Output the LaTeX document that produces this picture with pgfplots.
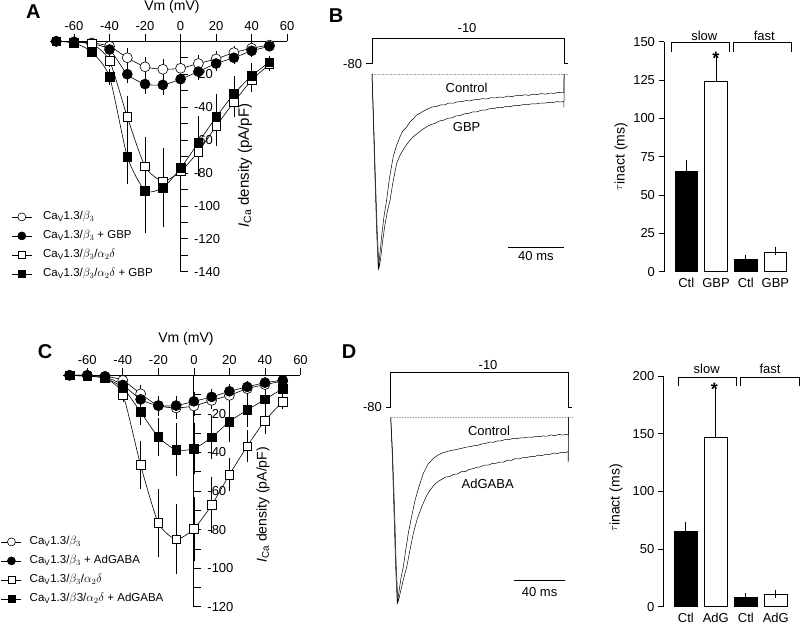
\documentclass[border=0pt]{standalone}
\usepackage{pgfplots}
\pgfplotsset{compat=1.18}
\usepackage{pgfplotstable}
\usepackage{fontspec}
\setmainfont{Liberation Sans}
\newcommand\tickfont{\fontsize{13}{15.5}\selectfont}
\newcommand\labfont{\fontsize{14}{17}\selectfont}
\newcommand\legfont{\fontsize{11.5}{13.5}\selectfont}

\pgfplotstableread{
v i e
-70 0 0
-60 -0.3 0
-50 -1 0.5
-40 -3 1.5
-30 -10 4
-20 -15.5 4
-10 -17 4
0 -16.4 4
10 -13.5 3
20 -10.7 3
30 -6.9 2
40 -4.2 1.5
50 -2.3 1
}\Aoc
\pgfplotstableread{
v i e
-70 0 0
-60 -0.5 0
-50 -1.5 0.5
-40 -5 1.5
-30 -20 3.5
-20 -26 4
-10 -26.5 4
0 -23 4
10 -18.4 3
20 -13.5 2.5
30 -10 2
40 -5.8 1.5
50 -3 1
}\Afc
\pgfplotstableread{
v i e
-70 0 0
-60 -0.5 0
-50 -1.5 0.5
-40 -11.8 2
-30 -46 11
-20 -76 16
-10 -85 17
0 -79 16
10 -67 13
20 -51.5 10
30 -37 7
40 -23.6 5
50 -14 2
}\Aos
\pgfplotstableread{
v i e
-70 0 0
-60 -1 0
-50 -6.5 1
-40 -21.6 3
-30 -70 15
-20 -90.7 24
-10 -89 22
0 -77 19
10 -61.6 14
20 -46 12
30 -32 9
40 -21 6
50 -12.7 2
}\Afs
\pgfplotstableread{
v i e
-70 0 0
-60 0 0
-50 -0.5 0.5
-40 -2.6 1
-30 -9.6 3
-20 -15.7 3.5
-10 -16.9 4
0 -15.9 3.5
10 -13 3
20 -10.4 2.5
30 -6.9 2
40 -4.8 1.5
50 -3 1
}\Coc
\pgfplotstableread{
v i e
-70 0 0
-60 0 0
-50 -0.8 0.5
-40 -5 1
-30 -12.5 2.5
-20 -15.7 3
-10 -15.7 3
0 -13.5 3
10 -11.2 2.5
20 -8.3 2
30 -6 1.5
40 -3.8 1
50 -2.6 0.5
}\Cfc
\pgfplotstableread{
v i e
-70 0 0
-60 -0.5 0
-50 -1.5 0.5
-40 -10 2
-30 -46.5 10.6
-20 -76.5 16
-10 -85 16.5
0 -79.6 15
10 -67.3 13
20 -51.5 7
30 -36.8 6.5
40 -23.5 5
50 -13.6 2
}\Cos
\pgfplotstableread{
v i e
-70 0 0
-60 -0.5 0
-50 -1.5 0.5
-40 -6.5 1.5
-30 -19 5
-20 -32 8
-10 -38.7 12
0 -38 11.7
10 -32.2 9.7
20 -24 9
30 -18 7
40 -12.5 4
50 -6.9 2
}\Cfs

\pgfplotsset{
  ivaxis/.style={scale only axis, anchor=south west, clip=false,
    axis x line*=top, axis y line*=center,
    xtick={-60,-40,...,60}, xtick align=outside, ytick align=inside,
    major tick length=7pt, minor tick length=7pt,
    tick style={black, line width=0.7pt}, axis line style={black, line width=0.8pt},
    xlabel={Vm (mV)}, ylabel={\textit{I}\textsubscript{Ca} density (pA/pF)},
    tick label style={font=\tickfont},
    yticklabel style={anchor=west, xshift=10pt},
    /pgf/number format/assume math mode=true,
    legend cell align=left,
    legend image code/.code={\draw[mark repeat=2,mark phase=2,##1,every mark/.append style={scale=0.8}] plot coordinates {(0pt,0pt) (10pt,0pt) (20pt,0pt)};}},
  legst/.style={legend style={anchor=north west, draw=none, fill=none, font=\legfont,
    inner sep=0pt, row sep=3pt, nodes={inner sep=2pt, text height=9pt, text depth=3pt}}},
  errs/.style={draw=none, mark=none, forget plot, error bars/.cd, y dir=both, y explicit,
    error bar style={draw=black, line width=0.6pt},
    error mark options={draw=black, mark size=3.3pt, line width=0.6pt}},
  ivl/.style={black, line width=0.6pt, smooth, tension=0.4},
  oc/.style={mark=*, mark size=5pt, mark options={solid, fill=white, draw=black, line width=0.6pt}},
  fc/.style={mark=*, mark size=5pt, mark options={solid, fill=black, draw=black}},
  os/.style={mark=square*, mark size=4.3pt, mark options={solid, fill=white, draw=black, line width=0.6pt}},
  fs/.style={mark=square*, mark size=4.3pt, mark options={solid, fill=black, draw=black}},
  traxis/.style={scale only axis, anchor=south west, clip=false, hide axis, xmin=-15, xmax=145},
  baraxis/.style={scale only axis, anchor=south west, clip=false, xmin=0.25, xmax=4.7, ymin=0,
    axis y line*=left, axis x line*=bottom, x axis line style={draw=none},
    xtick={1,2,3,4}, xtick style={draw=none}, ytick align=outside, major tick length=5.5pt,
    tick style={black, line width=0.7pt}, axis line style={black, line width=0.8pt},
    tick label style={font=\tickfont}, xticklabel style={yshift=2.5pt},
    /pgf/number format/assume math mode=true,
    ylabel={\raisebox{2.5pt}{\fontsize{11}{12}\selectfont$\tau$}inact (ms)},
    ybar, bar width=22.5pt},
  berr/.style={bar shift=0pt, error bars/.cd, y dir=plus, y explicit,
    error bar style={draw=black, line width=0.7pt},
    error mark options={draw=black, mark size=4pt, line width=0.7pt}},
}

\begin{document}
\begin{tikzpicture}[x=1pt,y=1pt]
\useasboundingbox (0,0) rectangle (800,-624);

% panel letters
\node[font=\fontsize{20}{24}\selectfont\bfseries] at (33.3,-11.7) {A};
\node[font=\fontsize{20}{24}\selectfont\bfseries] at (336,-15.5) {B};
\node[font=\fontsize{20}{24}\selectfont\bfseries] at (45,-351.7) {C};
\node[font=\fontsize{20}{24}\selectfont\bfseries] at (349,-351.7) {D};

% ---------------- Panel A -----------------
\begin{axis}[ivaxis, legst, at={(50pt,-271.7pt)}, width=237.2pt, height=230.4pt,
  xmin=-73.5, xmax=60, ymin=-140, ymax=0,
  ytick={-140,-120,...,-20}, minor ytick={-130,-110,...,-10},
  every axis x label/.style={at={(axis description cs:0.514,1.149)}, anchor=center, font=\labfont},
  every axis y label/.style={at={(axis description cs:0.822,0.46)}, rotate=90, anchor=center, font=\fontsize{15}{18}\selectfont},
  legend style={at={(axis description cs:-0.163,0.2734)}, column sep=9pt}]
\addplot[errs] table[x=v,y=i,y error=e]{\Aoc};
\addplot[errs] table[x=v,y=i,y error=e]{\Afc};
\addplot[errs] table[x=v,y=i,y error=e]{\Aos};
\addplot[errs] table[x=v,y=i,y error=e]{\Afs};
\addplot[ivl, oc] table[x=v,y=i]{\Aoc};
\addlegendentry{\legfont Ca\textsubscript{V}1.3/$\beta_3$}
\addplot[ivl, fc] table[x=v,y=i]{\Afc};
\addlegendentry{\legfont Ca\textsubscript{V}1.3/$\beta_3$ + GBP}
\addplot[ivl, os] table[x=v,y=i]{\Aos};
\addlegendentry{\legfont Ca\textsubscript{V}1.3/$\beta_3$/$\alpha_2\delta$}
\addplot[ivl, fs] table[x=v,y=i]{\Afs};
\addlegendentry{\legfont Ca\textsubscript{V}1.3/$\beta_3$/$\alpha_2\delta$ + GBP}
\end{axis}

% ---------------- Panel C -----------------
\begin{axis}[ivaxis, legst, at={(63.3pt,-606.7pt)}, width=237.2pt, height=231.4pt,
  xmin=-73.5, xmax=60, ymin=-120, ymax=0,
  ytick={-120,-100,...,-20}, minor ytick={-110,-90,...,-10},
  every axis x label/.style={at={(axis description cs:0.517,1.157)}, anchor=center, font=\labfont},
  every axis y label/.style={at={(axis description cs:0.842,0.44)}, rotate=90, anchor=center, font=\labfont},
  legend style={at={(axis description cs:-0.263,0.3155)}, column sep=6pt}]
\addplot[errs] table[x=v,y=i,y error=e]{\Coc};
\addplot[errs] table[x=v,y=i,y error=e]{\Cfc};
\addplot[errs] table[x=v,y=i,y error=e]{\Cos};
\addplot[errs] table[x=v,y=i,y error=e]{\Cfs};
\addplot[ivl, oc] table[x=v,y=i]{\Coc};
\addlegendentry{\legfont Ca\textsubscript{V}1.3/$\beta_3$}
\addplot[ivl, fc] table[x=v,y=i]{\Cfc};
\addlegendentry{\legfont Ca\textsubscript{V}1.3/$\beta_3$ + AdGABA}
\addplot[ivl, os] table[x=v,y=i]{\Cos};
\addlegendentry{\legfont Ca\textsubscript{V}1.3/$\beta_3$/$\alpha_2\delta$}
\addplot[ivl, fs] table[x=v,y=i]{\Cfs};
\addlegendentry{\legfont Ca\textsubscript{V}1.3/$\beta$3/$\alpha_2\delta$ + AdGABA}
\end{axis}

% ---------------- Panel B traces -----------------
\begin{axis}[traxis, at={(351pt,-279.8pt)}, width=224pt, height=264.6pt, ymin=-1.05, ymax=0.3]
\addplot[black, line width=0.6pt] coordinates {(-4.3,0.056) (0,0.056) (0,0.184) (137.1,0.184) (137.1,0.056) (140.2,0.056)};
\addplot[black!35, densely dotted, line width=0.6pt] coordinates {(0,0) (140,0)};
\addplot[black, line width=0.5pt] coordinates {
(0,0) (0.8,-0.2) (2,-0.5) (3.3,-0.8) (4.5,-1.0) (5.5,-0.93) (7,-0.82) (8.5,-0.73) (10.5,-0.64) (12.5,-0.53) (15.2,-0.42) (17.5,-0.365) (20,-0.32) (22,-0.29) (24.8,-0.27) (27,-0.245) (29,-0.232) (31.9,-0.209) (34,-0.202) (37,-0.188)
(40,-0.178) (43,-0.168) (46,-0.166) (49,-0.158) (52,-0.157) (55,-0.148) (58,-0.149) (61,-0.142) (64,-0.141) (67,-0.136) (70,-0.137) (73,-0.131) (76,-0.130) (79,-0.126) (82,-0.127) (85,-0.121) (88,-0.122) (91,-0.118) (94,-0.119) (97,-0.113) (100,-0.115) (103,-0.110) (106,-0.111) (109,-0.106) (112,-0.109) (115,-0.103) (118,-0.105) (121,-0.100) (124,-0.103) (127,-0.097) (130,-0.099) (133,-0.094) (136,-0.096) (137,-0.094) (137.2,0)};
\addplot[black, line width=0.5pt] coordinates {
(0,0) (1,-0.2) (2.3,-0.5) (3.7,-0.8) (5,-0.99) (6,-0.95) (7.5,-0.86) (9,-0.78) (11,-0.7) (12.9,-0.643) (15,-0.55) (17.6,-0.456) (20,-0.415) (23.6,-0.371) (26.5,-0.343) (29.5,-0.32) (33,-0.3) (36,-0.283) (39.1,-0.269)
(42,-0.258) (45,-0.252) (48,-0.240) (51,-0.236) (54,-0.226) (57,-0.224) (60,-0.214) (63,-0.212) (66,-0.203) (69,-0.201) (72,-0.193) (75,-0.193) (78,-0.185) (81,-0.184) (84,-0.177) (87,-0.177) (90,-0.170) (93,-0.171) (96,-0.165) (99,-0.166) (102,-0.160) (105,-0.161) (108,-0.156) (111,-0.157) (114,-0.152) (117,-0.153) (120,-0.148) (123,-0.149) (126,-0.145) (129,-0.146) (132,-0.141) (135,-0.143) (137,-0.140) (137.1,-0.17) (137.3,0)};
\addplot[black, line width=0.8pt] coordinates {(97.1,-0.883) (137.1,-0.883)};
\node[font=\tickfont] at (117.1,-0.929) {40 ms};
\node[font=\tickfont] at (67.9,0.235) {-10};
\node[font=\tickfont, anchor=east] at (-4.6,0.051) {-80};
\node[font=\tickfont] at (67.6,-0.073) {Control};
\node[font=\tickfont] at (67.6,-0.269) {GBP};
\end{axis}

% ---------------- Panel D traces -----------------
\begin{axis}[traxis, at={(371.5pt,-613.3pt)}, width=205.2pt, height=260.8pt, ymin=-1.05, ymax=0.35]
\addplot[black, line width=0.6pt] coordinates {(-3.7,0.0558) (0,0.0558) (0,0.2415) (138.8,0.2415) (138.8,0.0558) (141.1,0.0558)};
\addplot[black!35, densely dotted, line width=0.6pt] coordinates {(0,0) (141,0)};
\addplot[black, line width=0.5pt] coordinates {
(0,0) (1.2,-0.2) (2.5,-0.5) (3.8,-0.8) (5.1,-1.0) (6.5,-0.93) (8,-0.86) (9.8,-0.80) (11.7,-0.71) (13.7,-0.62) (16.3,-0.53) (19,-0.442) (22,-0.37) (25.4,-0.299) (29,-0.25) (33.2,-0.218) (37,-0.2) (40,-0.19) (43.7,-0.182)
(47,-0.176) (50,-0.172) (53,-0.168) (56,-0.163) (59,-0.158) (62,-0.155) (65,-0.150) (68,-0.148) (71,-0.141) (74,-0.138) (77,-0.131) (80,-0.132) (83,-0.125) (86,-0.124) (89,-0.118) (92,-0.118) (95,-0.112) (98,-0.113) (101,-0.108) (104,-0.108) (107,-0.104) (110,-0.105) (113,-0.101) (116,-0.102) (119,-0.098) (122,-0.099) (125,-0.092) (128,-0.097) (131,-0.090) (134,-0.093) (137,-0.090) (138.5,-0.093) (138.7,0.005)};
\addplot[black, line width=0.5pt] coordinates {
(0,0) (1.5,-0.2) (3,-0.5) (4.3,-0.8) (5.6,-0.99) (6.5,-0.97) (7.3,-0.943) (9.8,-0.87) (12.5,-0.80) (15,-0.71) (17.6,-0.62) (20.8,-0.54) (24.2,-0.478) (27.5,-0.425) (30.7,-0.388) (34,-0.36)
(37,-0.342) (40,-0.330) (43,-0.318) (46,-0.316) (49,-0.304) (52,-0.302) (55,-0.290) (58,-0.290) (61,-0.278) (64,-0.274) (67,-0.266) (70,-0.264) (73,-0.254) (76,-0.255) (79,-0.246) (82,-0.245) (85,-0.238) (88,-0.238) (91,-0.228) (94,-0.229) (97,-0.220) (100,-0.221) (103,-0.214) (106,-0.215) (109,-0.208) (112,-0.209) (115,-0.201) (118,-0.203) (121,-0.196) (124,-0.197) (127,-0.190) (130,-0.192) (133,-0.186) (136,-0.188) (138.3,-0.182) (138.4,-0.24) (138.6,0)};
\addplot[black, line width=0.8pt] coordinates {(96.1,-0.875) (136.1,-0.875)};
\node[font=\tickfont] at (116.1,-0.934) {40 ms};
\node[font=\tickfont] at (75.9,0.283) {-10};
\node[font=\tickfont, anchor=east] at (-4.2,0.059) {-80};
\node[font=\tickfont] at (76.6,-0.07) {Control};
\node[font=\tickfont] at (75.6,-0.357) {AdGABA};
\end{axis}

% ---------------- Panel B bars -----------------
\begin{axis}[baraxis, at={(664pt,-271.7pt)}, width=132.2pt, height=230pt, ymax=150,
  ytick={0,25,...,150}, xticklabels={Ctl,GBP,Ctl,GBP},
  every axis y label/.style={at={(axis description cs:-0.325,0.5)}, rotate=90, anchor=center, font=\labfont}]
\addplot[fill=black, draw=black, line width=0.7pt, berr] table[x=x,y=y,y error=e] {
x y e
1 65.2 5
3 8 0.5
};
\addplot[fill=white, draw=black, line width=0.7pt, berr] table[x=x,y=y,y error=e] {
x y e
2 124 14.3
4 12.5 1.3
};
\draw[line width=0.7pt] (0.509,143.5) -- (0.509,149.4) -- (2.449,149.4) -- (2.449,143.5);
\draw[line width=0.7pt] (2.583,143.5) -- (2.583,149.4) -- (4.55,149.4) -- (4.55,143.5);
\node[font=\tickfont] at (1.607,153.9) {slow};
\node[font=\tickfont] at (3.627,153.9) {fast};
\node[font=\fontsize{18}{20}\selectfont\bfseries] at (2,139.3) {*};
\end{axis}

% ---------------- Panel D bars -----------------
\begin{axis}[baraxis, at={(663.3pt,-606.7pt)}, width=133.5pt, height=230.7pt, ymax=200,
  ytick={0,50,...,200}, xticklabels={Ctl,AdG,Ctl,AdG},
  every axis y label/.style={at={(axis description cs:-0.354,0.471)}, rotate=90, anchor=center, font=\labfont}]
\addplot[fill=black, draw=black, line width=0.7pt, berr] table[x=x,y=y,y error=e] {
x y e
1 65.5 4.7
3 7.8 0.5
};
\addplot[fill=white, draw=black, line width=0.7pt, berr] table[x=x,y=y,y error=e] {
x y e
2 147 40
4 10.6 0.6
};
\draw[line width=0.7pt] (0.75,191.3) -- (0.75,198.9) -- (2.697,198.9) -- (2.697,191.3);
\draw[line width=0.7pt] (2.83,191.3) -- (2.83,198.9) -- (4.78,198.9) -- (4.78,191.3);
\node[font=\tickfont] at (1.697,205.8) {slow};
\node[font=\tickfont] at (3.807,205.8) {fast};
\node[font=\fontsize{18}{20}\selectfont\bfseries] at (1.95,188.8) {*};
\end{axis}
\end{tikzpicture}
\end{document}
